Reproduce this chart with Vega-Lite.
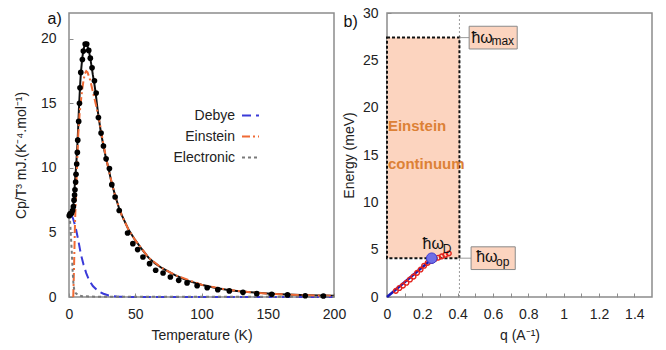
{
  "$schema": "https://vega.github.io/schema/vega-lite/v6.json",
  "padding": {"left": 13, "top": 5, "right": 5, "bottom": 5},
  "background": "white",
  "spacing": -6,
  "config": {
    "font": "Liberation Sans",
    "view": {"stroke": "#8c8c8c", "strokeWidth": 1.5},
    "axis": {
      "domain": false, "grid": false, "labelFlush": false, "labelOverlap": false,
      "tickColor": "#8c8c8c", "tickSize": -4, "tickWidth": 1,
      "labelFont": "Liberation Sans", "labelFontSize": 14, "labelColor": "#222",
      "titleFont": "Liberation Sans", "titleFontSize": 14, "titleFontWeight": "normal", "titleColor": "#222"
    }
  },
  "datasets": {
    "total": [
      {"T":0,"v":6.3},{"T":1,"v":6.35},{"T":2,"v":6.45},{"T":3,"v":6.8},{"T":3.5,"v":7.3},{"T":4,"v":8.0},{"T":4.5,"v":8.9},{"T":5,"v":9.6},{"T":5.5,"v":10.3},{"T":6,"v":11.2},{"T":6.5,"v":12.1},{"T":7,"v":13.3},{"T":7.5,"v":14.6},{"T":8,"v":15.6},{"T":8.5,"v":16.6},{"T":9,"v":17.4},{"T":10,"v":18.5},{"T":11,"v":19.2},{"T":12,"v":19.6},{"T":13,"v":19.65},{"T":14,"v":19.4},{"T":15,"v":19.1},{"T":16,"v":18.5},{"T":17,"v":17.9},{"T":18,"v":17.2},{"T":19,"v":16.6},{"T":20,"v":15.9},{"T":21,"v":15.0},{"T":22,"v":14.2},{"T":24,"v":12.8},{"T":26,"v":11.7},{"T":28,"v":10.7},{"T":30,"v":9.9},{"T":32,"v":8.9},{"T":35,"v":7.8},{"T":38,"v":6.8},{"T":40,"v":6.3},{"T":45,"v":5.2},{"T":50,"v":4.4},{"T":55,"v":3.7},{"T":60,"v":3.05},{"T":65,"v":2.6},{"T":70,"v":2.25},{"T":80,"v":1.7},{"T":90,"v":1.25},{"T":100,"v":0.95},{"T":110,"v":0.72},{"T":120,"v":0.55},{"T":130,"v":0.43},{"T":140,"v":0.34},{"T":150,"v":0.27},{"T":160,"v":0.21},{"T":170,"v":0.17},{"T":180,"v":0.13},{"T":190,"v":0.11},{"T":200,"v":0.09}
    ],
    "components": [
      {"s":"Debye","T":2,"v":6.3},{"s":"Debye","T":3,"v":6.1},{"s":"Debye","T":5,"v":5.4},{"s":"Debye","T":7,"v":4.4},{"s":"Debye","T":9,"v":3.3},{"s":"Debye","T":11,"v":2.5},{"s":"Debye","T":13,"v":1.85},{"s":"Debye","T":15,"v":1.35},{"s":"Debye","T":18,"v":0.85},{"s":"Debye","T":22,"v":0.45},{"s":"Debye","T":26,"v":0.25},{"s":"Debye","T":30,"v":0.12},{"s":"Debye","T":36,"v":0.03},{"s":"Debye","T":45,"v":0},{"s":"Debye","T":200,"v":0},
      {"s":"Einstein","T":3.2,"v":0},{"s":"Einstein","T":3.6,"v":1.5},{"s":"Einstein","T":4,"v":3.2},{"s":"Einstein","T":4.5,"v":5.6},{"s":"Einstein","T":5,"v":7.2},{"s":"Einstein","T":6,"v":10},{"s":"Einstein","T":7,"v":12.6},{"s":"Einstein","T":8,"v":14.2},{"s":"Einstein","T":9,"v":15.2},{"s":"Einstein","T":10,"v":16.1},{"s":"Einstein","T":11,"v":16.8},{"s":"Einstein","T":12,"v":17.3},{"s":"Einstein","T":13,"v":17.5},{"s":"Einstein","T":14,"v":17.4},{"s":"Einstein","T":15,"v":17.1},{"s":"Einstein","T":16,"v":16.8},{"s":"Einstein","T":18,"v":15.9},{"s":"Einstein","T":21,"v":14.6},{"s":"Einstein","T":23.5,"v":13.3},{"s":"Einstein","T":26,"v":11.8},{"s":"Einstein","T":30,"v":9.8},{"s":"Einstein","T":35,"v":7.75},{"s":"Einstein","T":40,"v":6.27},{"s":"Einstein","T":45,"v":5.2},{"s":"Einstein","T":50,"v":4.4},{"s":"Einstein","T":60,"v":3.05},{"s":"Einstein","T":70,"v":2.25},{"s":"Einstein","T":80,"v":1.7},{"s":"Einstein","T":100,"v":0.95},{"s":"Einstein","T":120,"v":0.55},{"s":"Einstein","T":140,"v":0.34},{"s":"Einstein","T":160,"v":0.21},{"s":"Einstein","T":180,"v":0.13},{"s":"Einstein","T":200,"v":0.09},
      {"s":"Electronic","T":0.8,"v":5.9},{"s":"Electronic","T":1.5,"v":4.6},{"s":"Electronic","T":2,"v":3.7},{"s":"Electronic","T":2.8,"v":1.9},{"s":"Electronic","T":3.3,"v":1.1},{"s":"Electronic","T":3.8,"v":0.65},{"s":"Electronic","T":5,"v":0.3},{"s":"Electronic","T":7,"v":0.13},{"s":"Electronic","T":10,"v":0.06},{"s":"Electronic","T":20,"v":0.02},{"s":"Electronic","T":200,"v":0.01}
    ],
    "points": [
      {"T":0.2,"v":6.3},{"T":0.8,"v":6.45},{"T":1.5,"v":6.45},{"T":2.0,"v":6.5},{"T":2.7,"v":6.7},{"T":3.3,"v":7.0},{"T":3.8,"v":7.5},{"T":4.2,"v":7.9},{"T":4.5,"v":8.3},{"T":5.0,"v":8.9},{"T":5.3,"v":9.5},{"T":5.8,"v":10.3},{"T":6.3,"v":11.2},{"T":6.6,"v":12.15},{"T":7.3,"v":13.6},{"T":7.9,"v":15.0},{"T":8.3,"v":16.2},{"T":8.9,"v":17.4},{"T":10.1,"v":18.4},{"T":10.8,"v":19.05},{"T":12.2,"v":19.6},{"T":13.4,"v":19.6},{"T":14.9,"v":19.1},{"T":16.1,"v":18.5},{"T":17.4,"v":17.75},{"T":19.2,"v":16.75},{"T":20.5,"v":15.8},{"T":22.2,"v":13.9},{"T":24.2,"v":12.7},{"T":26.0,"v":11.7},{"T":28.0,"v":10.7},{"T":30.5,"v":9.95},{"T":32.3,"v":8.7},{"T":34.8,"v":7.75},{"T":37.9,"v":6.7},{"T":44.2,"v":4.96},{"T":48.2,"v":4.13},{"T":51.8,"v":3.67},{"T":55.8,"v":3.1},{"T":60.8,"v":2.58},{"T":65.4,"v":2.07},{"T":71.0,"v":1.86},{"T":76.5,"v":1.55},{"T":82.8,"v":1.29},{"T":89.1,"v":1.09},{"T":96.7,"v":0.88},{"T":104.3,"v":0.72},{"T":112.3,"v":0.57},{"T":121.0,"v":0.47},{"T":131.3,"v":0.36},{"T":141.7,"v":0.26},{"T":153.0,"v":0.21},{"T":164.9,"v":0.16},{"T":178.3,"v":0.10},{"T":192.0,"v":0.08}
    ],
    "shade": [{"q":0,"q2":0.41,"e":4.1,"e2":27.4}],
    "boxes": [{"q":0.465,"q2":0.737,"e":26.2,"e2":28.6},{"q":0.476,"q2":0.726,"e":2.9,"e2":5.3}],
    "vrule": [{"q":0.41,"e":0,"e2":30}],
    "hrules": [{"q":0.41,"q2":0.465,"e":27.4},{"q":0.41,"q2":0.476,"e":4.1}],
    "blueline": [{"q":0,"e":0},{"q":0.26,"e":4.1}],
    "red": [{"q":0.05,"e":0.65},{"q":0.07,"e":0.95},{"q":0.09,"e":1.2},{"q":0.11,"e":1.5},{"q":0.13,"e":1.85},{"q":0.15,"e":2.15},{"q":0.17,"e":2.55},{"q":0.19,"e":2.9},{"q":0.21,"e":3.3},{"q":0.23,"e":3.6},{"q":0.25,"e":3.8},{"q":0.27,"e":4.0},{"q":0.29,"e":4.15},{"q":0.31,"e":4.3},{"q":0.33,"e":4.45},{"q":0.35,"e":4.6}],
    "dot": [{"q":0.253,"e":4.1}],
    "orangeText": [{"q":0.005,"e":18.1,"t":"Einstein"},{"q":0.005,"e":14.0,"t":"continuum"}],
    "bigText": [{"q":0.478,"e":26.8,"t":"ħω"},{"q":0.201,"e":5.1,"t":"ħω"},{"q":0.505,"e":3.75,"t":"ħω"}],
    "subText": [{"q":0.591,"e":26.6,"t":"max"},{"q":0.315,"e":4.7,"t":"D"},{"q":0.617,"e":3.3,"t":"op"}]
  },
  "hconcat": [
    {
      "width": 265, "height": 284,
      "resolve": {"axis": {"x": "independent"}},
      "layer": [
        {
          "data": {"name": "total"},
          "mark": {"type": "line", "color": "#111", "strokeWidth": 2},
          "encoding": {
            "x": {"field": "T", "type": "quantitative", "scale": {"domain": [0, 200], "nice": false},
              "axis": {"orient": "bottom", "title": "Temperature (K)", "values": [0, 50, 100, 150, 200], "labelPadding": 14, "titlePadding": 7, "labelOverlap": false}},
            "y": {"field": "v", "type": "quantitative", "scale": {"domain": [0, 22], "nice": false},
              "axis": {"title": "Cp/T³ mJ.(K⁻⁴.mol⁻¹)", "values": [0, 2.5, 5, 7.5, 10, 12.5, 15, 17.5, 20], "labelExpr": "datum.value % 5 == 0 ? datum.label : ''", "labelPadding": 17, "titlePadding": 12, "labelOverlap": false}}
          }
        },
        {
          "data": {"name": "components"},
          "mark": {"type": "line", "strokeWidth": 2},
          "encoding": {
            "x": {"field": "T", "type": "quantitative", "axis": null},
            "y": {"field": "v", "type": "quantitative"},
            "detail": {"field": "s"},
            "color": {"field": "s", "type": "nominal", "title": null,
              "scale": {"domain": ["Debye", "Einstein", "Electronic"], "range": ["#3a3ad8", "#f06a35", "#7a7a7a"]},
              "legend": {"orient": "none", "legendX": 172, "legendY": 93, "symbolType": "stroke", "symbolSize": 289, "symbolStrokeWidth": 2,
                "labelAlign": "right", "labelOffset": -25, "labelFontSize": 14, "labelFont": "Liberation Sans", "labelColor": "#222", "rowPadding": 4, "padding": 0}},
            "strokeDash": {"field": "s", "type": "nominal", "title": null,
              "scale": {"domain": ["Debye", "Einstein", "Electronic"], "range": [[9, 5], [8, 3, 2, 3], [3, 3]]}}
          }
        },
        {
          "data": {"name": "points"},
          "mark": {"type": "circle", "color": "#000", "size": 32, "opacity": 1},
          "encoding": {
            "x": {"field": "T", "type": "quantitative",
              "axis": {"orient": "top", "labels": false, "ticks": false, "domain": false, "title": "a)", "titleX": -22, "titleY": 10, "titleAlign": "left", "titleBaseline": "alphabetic", "titleAngle": 0, "titleFontSize": 16, "titleColor": "#111"}},
            "y": {"field": "v", "type": "quantitative"}
          }
        }
      ]
    },
    {
      "width": 265, "height": 284,
      "resolve": {"axis": {"x": "independent"}},
      "layer": [
        {
          "data": {"name": "vrule"},
          "mark": {"type": "rule", "color": "#9a9a9a", "strokeDash": [2, 2], "strokeWidth": 1},
          "encoding": {
            "x": {"field": "q", "type": "quantitative", "scale": {"domain": [0, 1.5], "nice": false},
              "axis": {"orient": "bottom", "title": "q (A⁻¹)", "values": [0, 0.1, 0.2, 0.3, 0.4, 0.5, 0.6, 0.7, 0.8, 0.9, 1, 1.1, 1.2, 1.3, 1.4], "labelExpr": "round(datum.value * 10) % 2 == 0 ? format(datum.value, '') : ''", "labelPadding": 14, "titlePadding": 7, "labelOverlap": false}},
            "y": {"field": "e", "type": "quantitative", "scale": {"domain": [0, 30], "nice": false},
              "axis": {"title": "Energy (meV)", "values": [0, 2.5, 5, 7.5, 10, 12.5, 15, 17.5, 20, 22.5, 25, 27.5, 30], "labelExpr": "datum.value % 5 == 0 ? datum.label : ''", "labelPadding": 13, "titlePadding": 6, "labelOverlap": false}},
            "y2": {"field": "e2"}
          }
        },
        {
          "data": {"name": "shade"},
          "mark": {"type": "rect", "fill": "#fcd4bf", "stroke": "#111", "strokeWidth": 2, "strokeDash": [3, 2]},
          "encoding": {
            "x": {"field": "q", "type": "quantitative", "axis": null}, "x2": {"field": "q2"},
            "y": {"field": "e", "type": "quantitative"}, "y2": {"field": "e2"}
          }
        },
        {
          "data": {"name": "hrules"},
          "mark": {"type": "rule", "color": "#9a9a9a", "strokeWidth": 1},
          "encoding": {
            "x": {"field": "q", "type": "quantitative", "axis": null}, "x2": {"field": "q2"},
            "y": {"field": "e", "type": "quantitative"}
          }
        },
        {
          "data": {"name": "boxes"},
          "mark": {"type": "rect", "fill": "#fcd4bf", "stroke": "#8a8a8a", "strokeWidth": 1},
          "encoding": {
            "x": {"field": "q", "type": "quantitative", "axis": null}, "x2": {"field": "q2"},
            "y": {"field": "e", "type": "quantitative"}, "y2": {"field": "e2"}
          }
        },
        {
          "data": {"name": "orangeText"},
          "mark": {"type": "text", "align": "left", "baseline": "middle", "font": "Liberation Sans", "fontSize": 15, "fontWeight": "bold", "color": "#dc8136"},
          "encoding": {
            "x": {"field": "q", "type": "quantitative", "axis": null},
            "y": {"field": "e", "type": "quantitative"},
            "text": {"field": "t"}
          }
        },
        {
          "data": {"name": "blueline"},
          "mark": {"type": "line", "color": "#1818b8", "strokeWidth": 2.5},
          "encoding": {
            "x": {"field": "q", "type": "quantitative", "axis": null},
            "y": {"field": "e", "type": "quantitative"}
          }
        },
        {
          "data": {"name": "red"},
          "mark": {"type": "point", "shape": "circle", "filled": false, "color": "#e3231d", "size": 22, "strokeWidth": 1.4, "opacity": 1},
          "encoding": {
            "x": {"field": "q", "type": "quantitative", "axis": null},
            "y": {"field": "e", "type": "quantitative"}
          }
        },
        {
          "data": {"name": "dot"},
          "mark": {"type": "point", "shape": "circle", "filled": true, "fill": "#6f6fe6", "stroke": "#3a3ad0", "strokeWidth": 1, "size": 110, "opacity": 1},
          "encoding": {
            "x": {"field": "q", "type": "quantitative",
              "axis": {"orient": "top", "labels": false, "ticks": false, "domain": false, "title": "b)", "titleX": -44, "titleY": 13, "titleAlign": "left", "titleBaseline": "alphabetic", "titleAngle": 0, "titleFontSize": 16, "titleColor": "#111"}},
            "y": {"field": "e", "type": "quantitative"}
          }
        },
        {
          "data": {"name": "bigText"},
          "mark": {"type": "text", "align": "left", "baseline": "alphabetic", "font": "Liberation Sans", "fontSize": 16, "color": "#111"},
          "encoding": {
            "x": {"field": "q", "type": "quantitative", "axis": null},
            "y": {"field": "e", "type": "quantitative"},
            "text": {"field": "t"}
          }
        },
        {
          "data": {"name": "subText"},
          "mark": {"type": "text", "align": "left", "baseline": "alphabetic", "font": "Liberation Sans", "fontSize": 12, "color": "#111"},
          "encoding": {
            "x": {"field": "q", "type": "quantitative", "axis": null},
            "y": {"field": "e", "type": "quantitative"},
            "text": {"field": "t"}
          }
        }
      ]
    }
  ]
}
